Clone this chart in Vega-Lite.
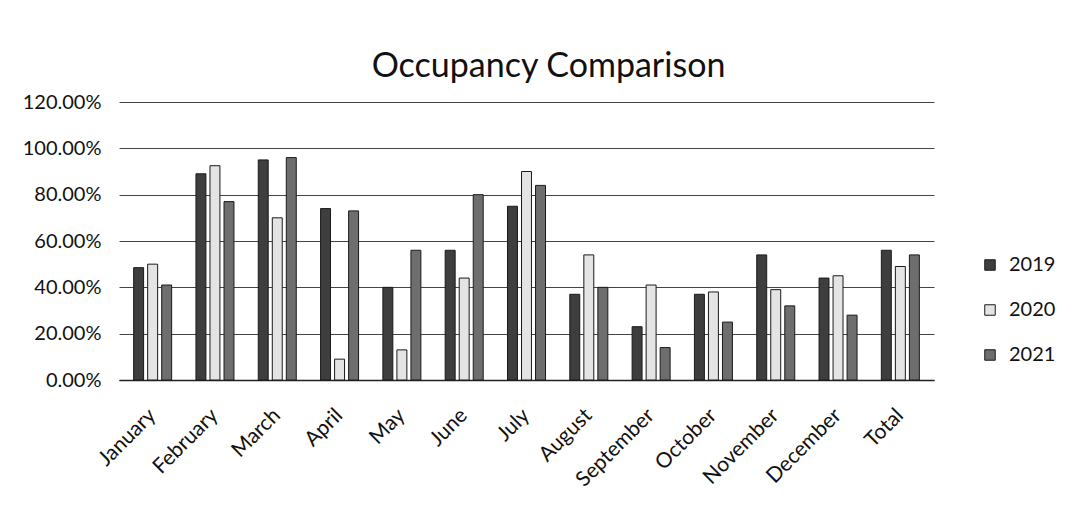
{
  "$schema": "https://vega.github.io/schema/vega-lite/v6.json",
  "width": 815,
  "height": 278,
  "padding": {"left": 22, "top": 50, "right": 5, "bottom": 5},
  "background": "white",
  "title": {"text": "Occupancy Comparison", "fontSize": 34, "font": "Lato", "fontWeight": "normal", "color": "#111", "offset": 8, "anchor": "middle", "dx": 22},
  "data": {"values": [
    {"month": "January", "year": "2019", "occ": 0.485},
    {"month": "January", "year": "2020", "occ": 0.50},
    {"month": "January", "year": "2021", "occ": 0.41},
    {"month": "February", "year": "2019", "occ": 0.89},
    {"month": "February", "year": "2020", "occ": 0.925},
    {"month": "February", "year": "2021", "occ": 0.77},
    {"month": "March", "year": "2019", "occ": 0.95},
    {"month": "March", "year": "2020", "occ": 0.70},
    {"month": "March", "year": "2021", "occ": 0.96},
    {"month": "April", "year": "2019", "occ": 0.74},
    {"month": "April", "year": "2020", "occ": 0.09},
    {"month": "April", "year": "2021", "occ": 0.73},
    {"month": "May", "year": "2019", "occ": 0.40},
    {"month": "May", "year": "2020", "occ": 0.13},
    {"month": "May", "year": "2021", "occ": 0.56},
    {"month": "June", "year": "2019", "occ": 0.56},
    {"month": "June", "year": "2020", "occ": 0.44},
    {"month": "June", "year": "2021", "occ": 0.80},
    {"month": "July", "year": "2019", "occ": 0.75},
    {"month": "July", "year": "2020", "occ": 0.90},
    {"month": "July", "year": "2021", "occ": 0.84},
    {"month": "August", "year": "2019", "occ": 0.37},
    {"month": "August", "year": "2020", "occ": 0.54},
    {"month": "August", "year": "2021", "occ": 0.40},
    {"month": "September", "year": "2019", "occ": 0.23},
    {"month": "September", "year": "2020", "occ": 0.41},
    {"month": "September", "year": "2021", "occ": 0.14},
    {"month": "October", "year": "2019", "occ": 0.37},
    {"month": "October", "year": "2020", "occ": 0.38},
    {"month": "October", "year": "2021", "occ": 0.25},
    {"month": "November", "year": "2019", "occ": 0.54},
    {"month": "November", "year": "2020", "occ": 0.39},
    {"month": "November", "year": "2021", "occ": 0.32},
    {"month": "December", "year": "2019", "occ": 0.44},
    {"month": "December", "year": "2020", "occ": 0.45},
    {"month": "December", "year": "2021", "occ": 0.28},
    {"month": "Total", "year": "2019", "occ": 0.56},
    {"month": "Total", "year": "2020", "occ": 0.49},
    {"month": "Total", "year": "2021", "occ": 0.54}
  ]},
  "mark": {"type": "bar", "stroke": "#1a1a1a", "strokeWidth": 1},
  "encoding": {
    "x": {
      "field": "month", "type": "nominal", "sort": null,
      "scale": {"paddingInner": 0.39, "paddingOuter": 0.235},
      "axis": {"title": null, "labelAngle": -45, "labelFontSize": 21, "labelFont": "Lato", "labelColor": "#111", "ticks": false, "domainColor": "#222", "domainWidth": 1.3, "labelPadding": 32, "labelDx": 10, "labelAlign": "right", "labelBaseline": "middle"}
    },
    "xOffset": {"field": "year", "type": "nominal", "scale": {"paddingInner": 0.29, "paddingOuter": 0}},
    "y": {
      "field": "occ", "type": "quantitative",
      "scale": {"domain": [0, 1.2], "nice": false},
      "axis": {"title": null, "format": ".2%", "values": [0, 0.2, 0.4, 0.6, 0.8, 1.0, 1.2], "labelFontSize": 20, "labelFont": "Lato", "labelColor": "#111", "ticks": false, "domain": false, "gridColor": "#444", "gridWidth": 1, "labelPadding": 18}
    },
    "color": {
      "field": "year", "type": "nominal",
      "scale": {"domain": ["2019", "2020", "2021"], "range": ["#3e3e3e", "#e4e4e4", "#6e6e6e"]},
      "legend": {"title": null, "orient": "none", "legendX": 861, "legendY": 153, "symbolType": "square", "symbolSize": 110, "symbolStrokeColor": "#1a1a1a", "symbolStrokeWidth": 1, "labelFontSize": 20, "labelFont": "Lato", "labelColor": "#111", "rowPadding": 25, "labelOffset": 9, "padding": 0}
    }
  },
  "config": {"view": {"stroke": null}}
}
